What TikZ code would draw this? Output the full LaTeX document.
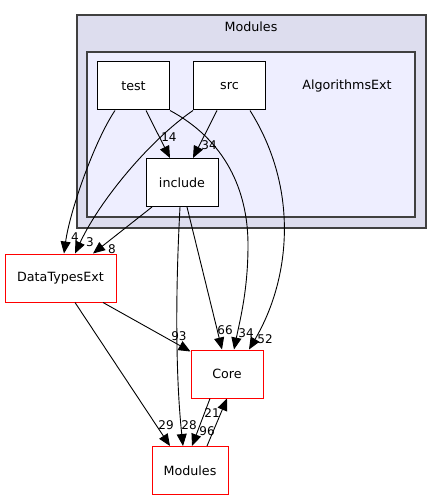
\documentclass[tikz,border=0pt]{standalone}
\usepackage{fontspec}
\setmainfont{DejaVu Sans}
\usetikzlibrary{shapes,arrows,arrows.meta,calc}
\definecolor{outerfill}{HTML}{DDDDEE}
\definecolor{innerfill}{HTML}{EEEEFF}
\definecolor{frame}{HTML}{404040}
\tikzstyle{line} = [draw, line width=0.9pt, -{Triangle[length=12pt,width=10pt]}]
\tikzstyle{dirbox} = [draw=black, fill=white, rectangle, text centered, line width=1pt, minimum width=72pt, minimum height=48pt, font=\fontsize{12.7}{15}\selectfont]
\tikzstyle{extbox} = [dirbox, draw=red]
\tikzstyle{cluster} = [draw=frame, line width=1.3pt]
\tikzstyle{title} = [font=\fontsize{12.7}{15}\selectfont]
\tikzstyle{count} = [inner sep=0pt, font=\fontsize{12}{14}\selectfont]

\begin{document}
\begin{tikzpicture}[x=1pt, y=-1pt]
        \useasboundingbox (0,0) rectangle (442,500);
        % clusters
        \filldraw[cluster, fill=outerfill] (77,15) rectangle (426,228);
        \node[title] (modtitle) at (251,27) {Modules};
        \filldraw[cluster, fill=innerfill] (87,52) rectangle (415,217);
        \node[title] (algtitle) at (347,86) {AlgorithmsExt};
        % directories
        \node[dirbox] (test) at (133.5,86) {test};
        \node[dirbox] (src) at (229.5,86) {src};
        \node[dirbox] (include) at (182,182.5) {include};
        \node[extbox, minimum width=111pt] (dte) at (60.5,278) {DataTypesExt};
        \node[extbox] (core) at (227,374) {Core};
        \node[extbox, minimum width=76pt] (modules) at (190,470.5) {Modules};
        % dependencies
        \path[line] ([xshift=12.5pt]test.south) -- ([xshift=-12pt]include.north);
        \path[line] ([xshift=-12.5pt]src.south) -- ([xshift=11pt]include.north);
        \path[line] ([xshift=-18.5pt]test.south) .. controls (95,140) and (70,210) .. ([xshift=3.5pt]dte.north);
        \path[line] (src.south west) .. controls (150,140) and (100,200) .. ([xshift=14.5pt]dte.north);
        \path[line] ([xshift=-30pt]include.south) -- ([xshift=32.5pt]dte.north);
        \path[line] (test.south east) .. controls (225,140) and (248,190) .. (248,245) .. controls (248,290) and (240,320) .. ([xshift=7pt]core.north);
        \path[line] ([xshift=20.5pt]src.south) .. controls (300,190) and (290,280) .. ([xshift=22pt]core.north);
        \path[line] ([xshift=5pt]include.south) -- ([xshift=-5pt]core.north);
        \path[line] ([xshift=-2pt]include.south) .. controls (175,300) and (176,380) .. ([xshift=-7pt]modules.north);
        \path[line] ([xshift=42.5pt]dte.south) -- ([yshift=-2pt]core.north west);
        \path[line] ([xshift=14.5pt]dte.south) -- ([xshift=-20pt]modules.north);
        \path[line] ([xshift=-17pt]core.south) -- ([xshift=2pt]modules.north);
        \path[line] ([xshift=17pt]modules.north) -- (core.south);
        % counts
        \node[count] (n14) at (169,137) {14};
        \node[count] (n34a) at (209,145) {34};
        \node[count] (n4) at (75,237) {4};
        \node[count] (n3) at (90,242) {3};
        \node[count] (n8) at (112,249) {8};
        \node[count] (n93) at (179,336) {93};
        \node[count] (n66) at (225,330) {66};
        \node[count] (n34b) at (246,333) {34};
        \node[count] (n52) at (265,339) {52};
        \node[count] (n29) at (166,425) {29};
        \node[count] (n28) at (189,425) {28};
        \node[count] (n96) at (207,431) {96};
        \node[count] (n21) at (212,413) {21};
\end{tikzpicture}
\end{document}
